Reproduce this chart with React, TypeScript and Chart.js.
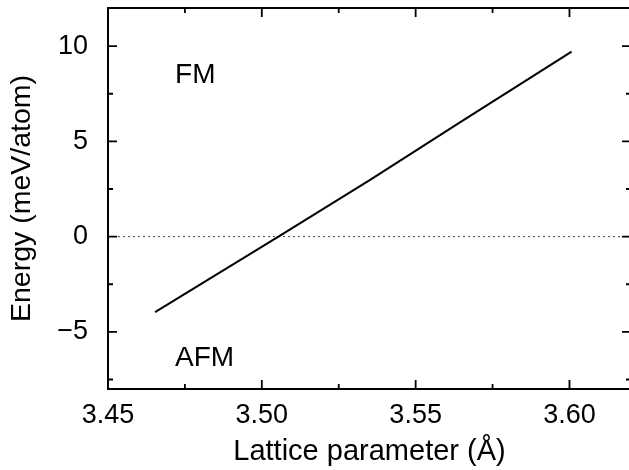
import React, { useEffect, useRef } from "react";
import { Chart, registerables } from "chart.js";

Chart.register(...registerables);

// ---- data ----
const latticeParam = [3.4653, 3.5054, 3.5352, 3.5644, 3.6007];
const energyDiff = [-3.96, 0.0, 2.98, 6.0, 9.71];
const zeroLineX = [3.45, 3.62];
const zeroLineY = [0, 0];
const xRange = [3.45, 3.62];
const yRange = [-8, 12];
const xMajorTicks = [3.45, 3.5, 3.55, 3.6];
const xMinorTicks = [3.475, 3.525, 3.575];
const yMajorTicks = [-5, 0, 5, 10];
const yMinorTicks = [-7.5, -2.5, 2.5, 7.5];
const yTickLabels = ["\u22125", "0", "5", "10"];
const phaseLabels = ["FM", "AFM"];
const phaseLabelX = [3.4718, 3.4718];
const phaseLabelY = [8.08, -6.77];

const FONT = "'Liberation Sans', Arial, Helvetica, sans-serif";

const framePlugin = {
  id: "frameTicks",
  afterDatasetsDraw(chart: any) {
    const { ctx, chartArea: a, scales } = chart;
    const x = scales.x;
    const y = scales.y;
    ctx.save();
    ctx.strokeStyle = "#000";
    ctx.lineWidth = 2;
    ctx.strokeRect(a.left, a.top, a.right - a.left, a.bottom - a.top);
    ctx.lineWidth = 1.8;
    const xt = (v: number, len: number) => {
      const p = x.getPixelForValue(v);
      ctx.beginPath();
      ctx.moveTo(p, a.bottom);
      ctx.lineTo(p, a.bottom - len);
      ctx.moveTo(p, a.top);
      ctx.lineTo(p, a.top + len);
      ctx.stroke();
    };
    const yt = (v: number, len: number) => {
      const p = y.getPixelForValue(v);
      ctx.beginPath();
      ctx.moveTo(a.left, p);
      ctx.lineTo(a.left + len, p);
      ctx.moveTo(a.right, p);
      ctx.lineTo(a.right - len, p);
      ctx.stroke();
    };
    xMajorTicks.forEach((v) => xt(v, 9));
    xMinorTicks.forEach((v) => xt(v, 5));
    yMajorTicks.forEach((v) => yt(v, 9));
    yMinorTicks.forEach((v) => yt(v, 5));

    ctx.fillStyle = "#000";
    ctx.font = `28px ${FONT}`;
    ctx.textAlign = "left";
    ctx.textBaseline = "alphabetic";
    phaseLabels.forEach((t, i) => {
      ctx.fillText(t, x.getPixelForValue(phaseLabelX[i]), y.getPixelForValue(phaseLabelY[i]));
    });
    ctx.restore();
  },
};

export default function App() {
  const ref = useRef<HTMLCanvasElement | null>(null);

  useEffect(() => {
    if (!ref.current) return;
    Chart.defaults.font.family = FONT;
    const chart = new Chart(ref.current, {
      type: "line",
      data: {
        datasets: [
          {
            data: latticeParam.map((v, i) => ({ x: v, y: energyDiff[i] })),
            borderColor: "#000",
            borderWidth: 2,
            pointRadius: 0,
            fill: false,
            tension: 0,
          },
          {
            data: zeroLineX.map((v, i) => ({ x: v, y: zeroLineY[i] })),
            borderColor: "#444",
            borderWidth: 1,
            borderDash: [2, 3],
            pointRadius: 0,
            fill: false,
          },
        ],
      },
      options: {
        responsive: false,
        animation: false,
        devicePixelRatio: 1,
        layout: { padding: { top: 8, right: 1, bottom: 0, left: 0 } },
        plugins: { legend: { display: false }, tooltip: { enabled: false } },
        scales: {
          x: {
            type: "linear",
            min: xRange[0],
            max: xRange[1],
            grid: { display: false, drawTicks: false },
            border: { display: false },
            afterBuildTicks: (s: any) => {
              s.ticks = xMajorTicks.map((v) => ({ value: v }));
            },
            afterFit: (s: any) => {
              s.height = 81;
              s.paddingLeft = 0;
              s.paddingRight = 0;
            },
            ticks: {
              color: "#000",
              padding: 10,
              maxRotation: 0,
              autoSkip: false,
              font: { size: 27 },
              callback: (v: any) => Number(v).toFixed(2),
            },
            title: {
              display: true,
              text: "Lattice parameter (Å)",
              color: "#000",
              font: { size: 29 },
              padding: { top: 0, bottom: 1 },
            },
          },
          y: {
            type: "linear",
            min: yRange[0],
            max: yRange[1],
            grid: { display: false, drawTicks: false },
            border: { display: false },
            afterBuildTicks: (s: any) => {
              s.ticks = yMajorTicks.map((v) => ({ value: v }));
            },
            afterFit: (s: any) => {
              s.width = 108;
              s.paddingTop = 0;
              s.paddingBottom = 0;
            },
            ticks: {
              color: "#000",
              padding: 20,
              autoSkip: false,
              font: { size: 27 },
              callback: (v: any) => {
                const i = yMajorTicks.indexOf(Number(v));
                return i >= 0 ? yTickLabels[i] : "";
              },
            },
            title: {
              display: true,
              text: "Energy (meV/atom)",
              color: "#000",
              font: { size: 28.5 },
              padding: { top: 5, bottom: 0 },
            },
          },
        },
      },
      plugins: [framePlugin],
    });
    return () => chart.destroy();
  }, []);

  return (
    <div
      style={{
        position: "fixed",
        left: 0,
        top: 0,
        width: 629,
        height: 470,
        overflow: "hidden",
        background: "#fff",
      }}
    >
      <canvas ref={ref} width={632} height={470} style={{ width: 632, height: 470, display: "block" }} />
    </div>
  );
}
